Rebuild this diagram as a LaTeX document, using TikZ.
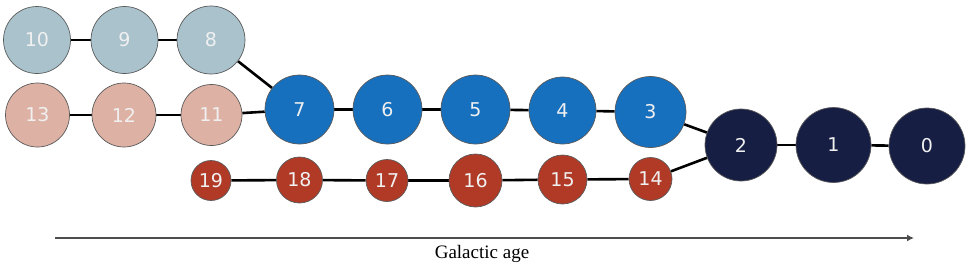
\documentclass[tikz,border=0pt]{standalone}
\usepackage{fontspec}
\setmainfont{Liberation Serif}
\newfontfamily\numfont{DejaVu Sans}
\usepackage{tikz}
\usetikzlibrary{arrows.meta,backgrounds}
\usepackage{xcolor}
\definecolor{oldgray}{HTML}{A9C2CC}
\definecolor{oldpink}{HTML}{DDB1A4}
\definecolor{midblue}{HTML}{1770BD}
\definecolor{midred}{HTML}{B13A27}
\definecolor{youngnavy}{HTML}{171E44}
\definecolor{rimgray}{HTML}{5A5A5A}

\begin{document}
\begin{tikzpicture}[x=1pt,y=-1pt,
  halo/.style={circle,draw=rimgray,line width=0.7pt,inner sep=0pt,
    text=white!94!black,font=\numfont\fontsize{19}{19}\selectfont},
  gray/.style={halo,fill=oldgray},
  pink/.style={halo,fill=oldpink},
  blue/.style={halo,fill=midblue},
  red/.style={halo,fill=midred},
  navy/.style={halo,fill=youngnavy},
  merge/.style={line width=2.6pt,black}]
  \useasboundingbox (0,0) rectangle (969,268);
  % oldest branches
  \node[gray,minimum size=67pt] (n10) at (37,40) {10};
  \node[gray,minimum size=67pt] (n9) at (124.5,40) {9};
  \node[gray,minimum size=68pt] (n8) at (211,40) {8};
  \node[pink,minimum size=64pt] (n13) at (37.5,115) {13};
  \node[pink,minimum size=64pt] (n12) at (124,115) {12};
  \node[pink,minimum size=61pt] (n11) at (211.5,115) {11};
  % main branch
  \node[blue,minimum size=69pt] (n7) at (299.5,109.5) {7};
  \node[blue,minimum size=69pt] (n6) at (387.5,109.5) {6};
  \node[blue,minimum size=69pt] (n5) at (475.5,109.5) {5};
  \node[blue,minimum size=67pt] (n4) at (562.5,110.5) {4};
  \node[blue,minimum size=71pt] (n3) at (650.5,112) {3};
  % lower branch
  \node[red,minimum size=40pt] (n19) at (211,180.5) {19};
  \node[red,minimum size=46pt] (n18) at (299.5,180) {18};
  \node[red,minimum size=42pt] (n17) at (387,180.5) {17};
  \node[red,minimum size=53pt] (n16) at (475.5,180.5) {16};
  \node[red,minimum size=49pt] (n15) at (562.5,179.5) {15};
  \node[red,minimum size=43pt] (n14) at (650.5,179) {14};
  % youngest
  \node[navy,minimum size=72pt] (n2) at (741,145) {2};
  \node[navy,minimum size=75pt] (n1) at (833.5,145) {1};
  \node[navy,minimum size=76pt] (n0) at (927,146) {0};
  % links, behind the circles
  \begin{pgfonlayer}{background}
    \draw[merge] (n10) -- (n9);
    \draw[merge] (n9) -- (n8);
    \draw[merge] (n8) -- (n7);
    \draw[merge] (n13) -- (n12);
    \draw[merge] (n12) -- (n11);
    \draw[merge] (n11) -- (n7);
    \draw[merge] (n7) -- (n6);
    \draw[merge] (n6) -- (n5);
    \draw[merge] (n5) -- (n4);
    \draw[merge] (n4) -- (n3);
    \draw[merge] (n3) -- (n2);
    \draw[merge] (n19) -- (n18);
    \draw[merge] (n18) -- (n17);
    \draw[merge] (n17) -- (n16);
    \draw[merge] (n16) -- (n15);
    \draw[merge] (n15) -- (n14);
    \draw[merge] (n14) -- (n2);
    \draw[merge] (n2) -- (n1);
    \draw[merge] (n1) -- (n0);
  \end{pgfonlayer}
  % time axis
  \coordinate (agestart) at (55,238);
  \coordinate (ageend) at (914,238);
  \draw[-{Latex[length=7pt,width=7pt]},line width=1.4pt,black!70] (agestart) -- (ageend);
  \node[font=\fontsize{19}{19}\selectfont,anchor=base] (agelabel) at (482,258) {Galactic age};
\end{tikzpicture}
\end{document}
